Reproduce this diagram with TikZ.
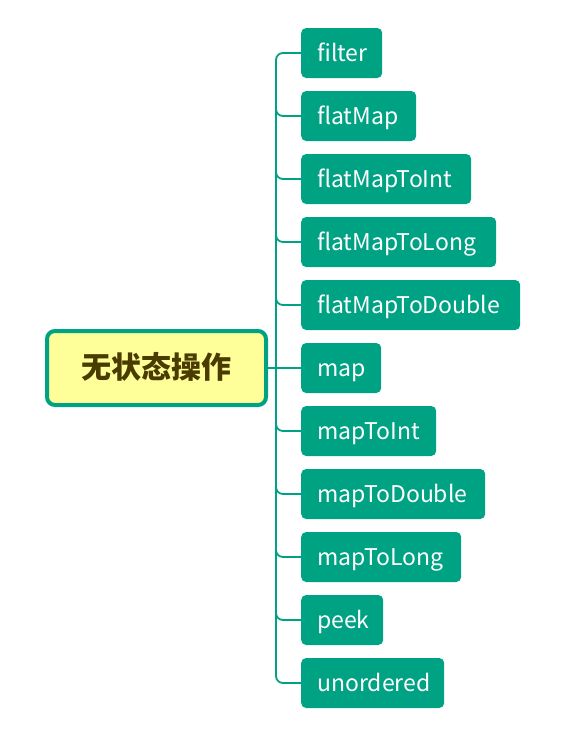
\documentclass[tikz,border=0pt]{standalone}
\usepackage{fontspec}
\setmainfont{Noto Sans CJK SC}
\newfontfamily\cjk{Noto Sans CJK SC}
\definecolor{teal1}{HTML}{00A284}
\definecolor{rootfill}{HTML}{FFFF99}
\definecolor{roottext}{HTML}{4A3C00}
\begin{document}
\begin{tikzpicture}[x=1pt,y=-1pt,
  leaf/.style={fill=teal1, rounded corners=5pt, text=white, font=\fontsize{23}{26}\selectfont,
    minimum height=50pt, inner xsep=16pt, inner ysep=0pt, text height=20pt, text depth=2.6pt,
    anchor=west, align=left},
  rootbox/.style={draw=teal1, line width=4pt, fill=rootfill, rounded corners=8pt,
    minimum width=219pt, minimum height=74pt, text=roottext, text height=24pt, text depth=3pt,
    font=\cjk\bfseries\fontsize{30}{34}\selectfont},
  conn/.style={draw=teal1, line width=1.8pt, rounded corners=7pt}]
\useasboundingbox (0,0) rectangle (564,734);
\node[rootbox] (root) at (156.5,368) {无状态操作};
\node[leaf, text width=49pt] (n1) at (301,53) {filter};
\node[leaf, text width=83pt] (n2) at (301,116) {flatMap};
\node[leaf, text width=138pt] (n3) at (301,179) {flatMapToInt};
\node[leaf, text width=163pt] (n4) at (301,242) {flatMapToLong};
\node[leaf, text width=187pt] (n5) at (301,305) {flatMapToDouble};
\node[leaf, text width=48pt] (n6) at (301,368) {map};
\node[leaf, text width=103pt] (n7) at (301,431) {mapToInt};
\node[leaf, text width=152pt] (n8) at (301,494) {mapToDouble};
\node[leaf, text width=128pt] (n9) at (301,557) {mapToLong};
\node[leaf, text width=50pt] (n10) at (301,620) {peek};
\node[leaf, text width=111pt] (n11) at (301,683) {unordered};
\coordinate (tx) at (276,0);
\draw[conn] (n1.west) -- (tx |- n1.west) -- (tx |- n11.west) -- (n11.west);
\foreach \n in {n2,n3,n4,n5,n7,n8,n9,n10}
  \draw[conn] (tx |- \n.west) ++(0,-8) -- ++(0,8) -- (\n.west);
\draw[conn, rounded corners=0pt] (root.east) -- (n6.west);
\end{tikzpicture}
\end{document}
